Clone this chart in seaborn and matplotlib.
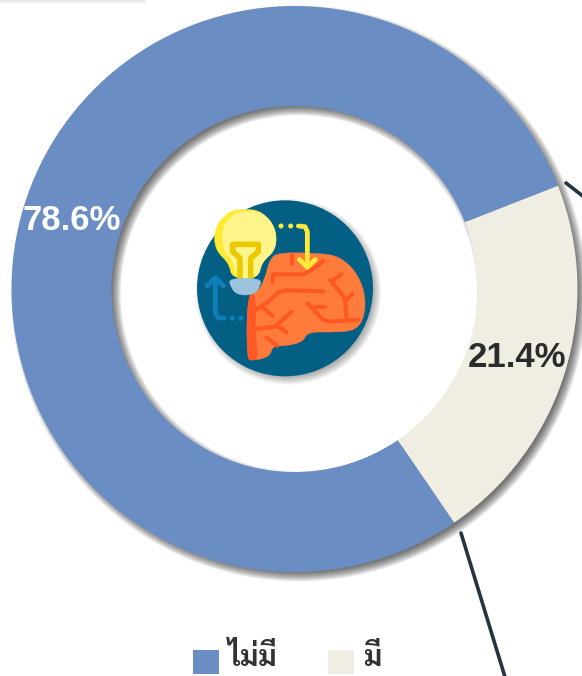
import matplotlib
matplotlib.use("Agg")
import matplotlib.pyplot as plt
import matplotlib.patches as mpatches
from matplotlib.path import Path
import seaborn as sns

labels = ["ไม่มี", "มี"]
values = [78.6, 21.4]
colors = ["#6A8EC4", "#F0EEE3"]
pct_colors = ["white", "#2B2B2B"]

sns.set_theme(style="white")
plt.rcParams["font.family"] = ["Liberation Sans", "DejaVu Sans"]

W, H = 582, 676
CX, CY, R, RING = 294.5, 387, 283, 100
START = 21.4


# icon was measured on a 3x crop starting at (190, 195)
def z(x, y):
    return 190 + x / 3, H - (195 + y / 3)


def zline(ax, pts, color, lw, zorder=6):
    xs, ys = zip(*[z(*p) for p in pts])
    ax.plot(xs, ys, color=color, lw=lw, solid_capstyle="round", solid_joinstyle="round", zorder=zorder)


def zdot(ax, x, y, color, r=2.5, zorder=6):
    ax.add_patch(mpatches.Circle(z(x, y), r, fc=color, lw=0, zorder=zorder))


def zblob(ax, pts, color, zorder=5):
    # closed outline, rounded through the midpoints
    p = [z(*q) for q in pts]
    n = len(p)
    mid = [((p[i][0] + p[(i + 1) % n][0]) / 2, (p[i][1] + p[(i + 1) % n][1]) / 2) for i in range(n)]
    verts = [mid[-1]]
    codes = [Path.MOVETO]
    for i in range(n):
        verts += [p[i], mid[i]]
        codes += [Path.CURVE3, Path.CURVE3]
    ax.add_patch(mpatches.PathPatch(Path(verts, codes), fc=color, ec=color, lw=0.3, zorder=zorder))


def draw_icon(ax):
    # soft shadow then the disc
    for i in range(12):
        ax.add_patch(mpatches.Circle(z(295, 290), 93 - i * 0.8, fc="black", alpha=0.03, lw=0, zorder=4))
    ax.add_patch(mpatches.Circle(z(285, 280), 88, fc="#045F85", lw=0, zorder=4.5))

    brain = [(172, 300), (205, 290), (225, 250), (240, 190), (270, 172), (390, 175), (445, 183),
             (495, 225), (525, 290), (525, 360), (500, 405), (440, 412), (352, 410),
             (340, 440), (290, 453), (248, 452), (240, 485), (190, 497), (170, 492)]
    zblob(ax, brain, "#FF7B3C")
    zblob(ax, [(172, 300), (197, 292), (197, 440), (205, 490), (188, 497), (170, 492)], "#FF5A26", zorder=5.1)

    veins = [
        [(247, 262), (250, 238), (340, 238), (365, 225), (400, 198)],
        [(305, 180), (305, 207)],
        [(197, 345), (235, 320), (265, 292), (290, 286), (400, 289)],
        [(215, 335), (248, 362)],
        [(197, 402), (255, 395), (305, 350)],
        [(265, 395), (290, 412)],
        [(230, 428), (262, 452)],
        [(352, 325), (400, 375), (420, 380), (505, 374)],
        [(375, 335), (405, 335)],
        [(420, 255), (465, 310), (470, 374)],
        [(430, 255), (455, 237)],
        [(465, 318), (487, 298)],
    ]
    for v in veins:
        zline(ax, v, "#FF5722", 2.9, zorder=5.2)

    # bulb
    zblob(ax, [(165, 42), (215, 48), (258, 100), (258, 165), (215, 200), (205, 250), (125, 250), (118, 205),
               (75, 165), (72, 100), (115, 48)], "#FFEC32", zorder=5.3)
    zblob(ax, [(175, 46), (222, 55), (258, 100), (258, 165), (215, 200), (205, 250), (135, 250), (135, 205),
               (98, 165), (95, 100), (130, 55)], "#FFF48A", zorder=5.4)
    zline(ax, [(150, 245), (150, 190), (128, 170), (128, 148), (205, 148), (205, 170), (182, 190), (182, 245)], "#EBC900", 4, zorder=5.6)
    zblob(ax, [(118, 250), (212, 250), (212, 272), (192, 300), (140, 300), (120, 272)], "#9CC4DE", zorder=5.7)

    # arrows
    zline(ax, [(325, 93), (345, 95), (352, 110), (352, 215)], "#FFE93B", 3.4)
    zline(ax, [(328, 193), (352, 217), (376, 193)], "#FFE93B", 3.4)
    for x in (273, 302):
        zdot(ax, x, 93, "#FFE93B")
    zline(ax, [(103, 370), (85, 368), (76, 355), (76, 250)], "#0E80B8", 3.4)
    zline(ax, [(51, 273), (76, 248), (100, 273)], "#0E80B8", 3.4)
    for x in (127, 153):
        zdot(ax, x, 370, "#0E80B8")


fig = plt.figure(figsize=(W / 100, H / 100), dpi=100)
ax = fig.add_axes([0, 0, 1, 1])

# connector lines behind the ring
ax.plot([461, 505], [H - 533, H - 677], color="#24353F", lw=2.6, zorder=1)
ax.plot([566, 584], [H - 183, H - 197], color="#24353F", lw=2.6, zorder=1)

# faint strip along the top left
for i in range(4):
    ax.plot([0, 145], [H - i, H - i], color="black", alpha=0.02 * (4 - i), lw=1, zorder=1)

# ring shadow
for i in range(14):
    d = 5 - i * 10 / 14
    ax.add_patch(mpatches.Wedge((CX + 4.5, CY - 4.5), R + d, 0, 360, width=RING + 2 * d,
                                fc="black", alpha=0.05, lw=0, zorder=1.5))

wedges, _, autotexts = ax.pie(
    values, colors=colors, startangle=START, center=(CX, CY), radius=R,
    autopct="%.1f%%", pctdistance=0.823, wedgeprops={"width": RING, "linewidth": 0, "zorder": 2},
    textprops={"fontsize": 25, "fontweight": "bold"},
)
for t, c in zip(autotexts, pct_colors):
    t.set_color(c)
    t.set_zorder(8)

draw_icon(ax)

ax.set_xlim(0, W)
ax.set_ylim(0, H)
ax.set_aspect("equal")
ax.axis("off")

leg = ax.legend(wedges, labels, ncols=2, loc="center", bbox_to_anchor=(287 / W, 1 - 659 / H), frameon=False,
                handlelength=0.89, handleheight=0.86, handletextpad=0.31, columnspacing=1.75,
                prop={"family": ["Sarabun", "DejaVu Sans"], "size": 21, "weight": "bold"}, labelcolor="#333333")
# squares sit lower than the text in the reference
for h in leg.get_patches():
    h.set_y(h.get_y() - 4)

fig.savefig("out.png", dpi=100)
